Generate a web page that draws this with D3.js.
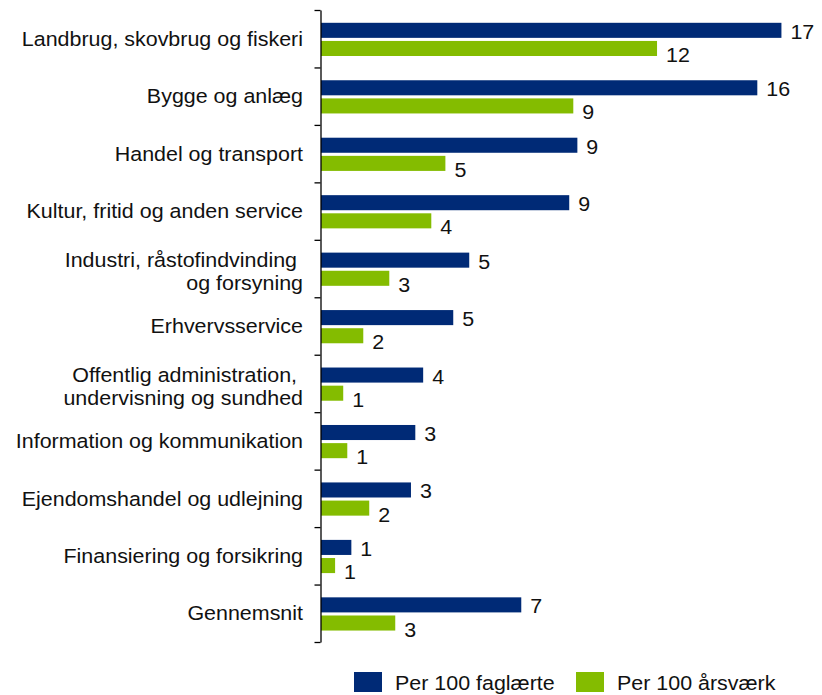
<!DOCTYPE html>
<html>
<head>
<meta charset="utf-8">
<script src="https://cdn.jsdelivr.net/npm/d3@7"></script>
<style>
  html, body { margin: 0; padding: 0; background: #fff; }
  svg text { font-family: "Liberation Sans", Arial, sans-serif; fill: #111; white-space: pre; }
</style>
</head>
<body>
<svg id="chart" width="822" height="695"></svg>
<script>
// ---- data ----
const categories = [
  ["Landbrug, skovbrug og fiskeri"],
  ["Bygge og anlæg"],
  ["Handel og transport"],
  ["Kultur, fritid og anden service"],
  ["Industri, råstofindvinding ", "og forsyning"],
  ["Erhvervsservice"],
  ["Offentlig administration, ", "undervisning og sundhed"],
  ["Information og kommunikation"],
  ["Ejendomshandel og udlejning"],
  ["Finansiering og forsikring"],
  ["Gennemsnit"]
];
const perFaglaerte = [16.99, 16.10, 9.46, 9.16, 5.47, 4.88, 3.77, 3.48, 3.32, 1.12, 7.39];
const perAarsvaerk = [12.40, 9.31, 4.59, 4.07, 2.52, 1.56, 0.82, 0.97, 1.78, 0.52, 2.74];
const seriesNames = ["Per 100 faglærte", "Per 100 årsværk"];
const seriesColors = ["#002a76", "#84bc00"];

// ---- layout ----
const svg = d3.select("#chart");
const FS = 19.5, SX = 1.1;
const x0 = 321;
const x = d3.scaleLinear().domain([0, 20]).range([x0, x0 + 27.1 * 20]);
const idx = d3.range(categories.length);
const y = d3.scaleBand().domain(idx).range([10, 642]).padding(0);
const ySub = d3.scaleBand().domain([0, 1]).range([12.8, 46]).paddingInner(0.17).paddingOuter(0);
const yTicks = d3.scaleLinear().domain([0, categories.length]).range([10, 642]);

function txt(g, tx, ty, s, anchor) {
  return g.append("text")
    .attr("transform", `translate(${tx},${ty}) scale(${SX},1)`)
    .attr("text-anchor", anchor)
    .attr("font-size", FS)
    .text(s);
}

// bars
const series = [perFaglaerte, perAarsvaerk];
const labelDy = [8.5, 13.5];
series.forEach((vals, s) => {
  svg.append("g").selectAll("rect").data(idx).join("rect")
    .attr("x", x0)
    .attr("y", i => y(i) + ySub(s))
    .attr("width", i => x(vals[i]) - x0)
    .attr("height", ySub.bandwidth())
    .attr("fill", seriesColors[s]);
  const lg = svg.append("g");
  idx.forEach(i => {
    txt(lg, x(vals[i]) + 9, y(i) + ySub(s) + ySub.bandwidth() / 2 + labelDy[s], String(Math.round(vals[i])), "start");
  });
});

// axis
const axis = d3.axisLeft(yTicks).ticks(categories.length).tickValues(d3.range(categories.length + 1))
  .tickFormat("").tickSizeInner(6).tickSizeOuter(0);
const ag = svg.append("g").attr("transform", `translate(${x0 - 0.5},0)`).call(axis);
ag.select(".domain").attr("stroke", "#000").attr("stroke-width", 1.3);
ag.selectAll(".tick line").attr("stroke", "#000").attr("stroke-width", 1.3);

// category labels
const cg = svg.append("g");
categories.forEach((lines, i) => {
  const c = y(i) + y.bandwidth() / 2;
  if (lines.length === 1) {
    txt(cg, 303, c + 7.2, lines[0], "end");
  } else {
    const mid = c + 2.8;
    txt(cg, 303, mid - 11.75 + 7.2, lines[0], "end");
    txt(cg, 303, mid + 11.75 + 7.2, lines[1], "end");
  }
});

// legend
const legendX = [354, 576];
const lgd = svg.append("g");
seriesNames.forEach((n, s) => {
  lgd.append("rect").attr("x", legendX[s]).attr("y", 672).attr("width", 28).attr("height", 20).attr("fill", seriesColors[s]);
  txt(lgd, legendX[s] + 41, 690, n, "start");
});
</script>
</body>
</html>
